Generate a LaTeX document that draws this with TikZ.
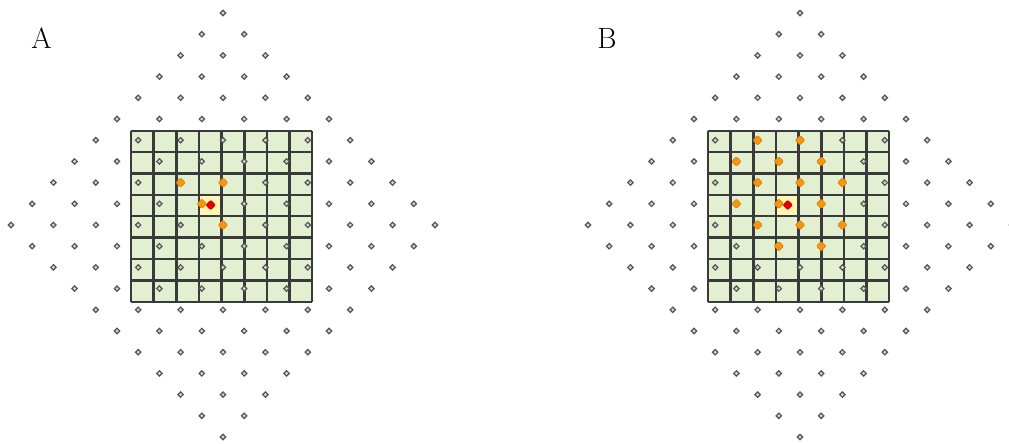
\documentclass[tikz,border=0pt]{standalone}
\usepackage{xcolor}
\usepackage{tikz}
\usetikzlibrary{shapes.geometric}
\tikzset{>=stealth}

\definecolor{cellgreen}{HTML}{E3EFD1}
\definecolor{gridline}{HTML}{3A3A3A}
\definecolor{hilite}{HTML}{FFF6B4}
\definecolor{dotgray}{HTML}{D6D6D6}
\definecolor{dotedge}{HTML}{555555}
\definecolor{nborange}{HTML}{F7950F}
\definecolor{querred}{HTML}{E80000}

\tikzset{
  latpt/.style={diamond,draw=dotedge,fill=dotgray,line width=0.9pt,inner sep=0pt,minimum size=4.4pt},
  nbpt/.style={diamond,draw=nborange!85!black,fill=nborange,line width=0.4pt,inner sep=0pt,minimum size=7.4pt,rounded corners=0.8pt},
  qpt/.style={diamond,draw=querred!85!black,fill=querred,line width=0.4pt,inner sep=0pt,minimum size=7.4pt,rounded corners=0.8pt},
  panellabel/.style={font=\fontsize{22}{26}\selectfont}
}

\begin{document}
\begin{tikzpicture}[x=0.75pt,y=-0.75pt]
  \useasboundingbox (0,0) rectangle (1009,443);

  % two panels, B shifted by 577px
  \foreach \pnl/\dx in {A/0,B/577}{
    \begin{scope}[xshift=\dx*0.75pt]
      % grid of cells
      \fill[cellgreen] (131,130.7) rectangle (312.3,301.7);
      \fill[hilite] (199,194.8) rectangle (221.6,216.2);
      \foreach \c in {0,...,8}
        \draw[gridline,line width=1.8pt] (131+\c*22.66,130.7) -- (131+\c*22.66,301.7);
      \foreach \r in {0,...,8}
        \draw[gridline,line width=1.8pt] (131,130.7+\r*21.375) -- (312.3,130.7+\r*21.375);
      % lattice points, diamond |i|+|j|<=10
      \foreach \a in {-5,...,5}
        \foreach \b in {-5,...,5}
          \node[latpt] (p\pnl-\a-\b) at ({223+(\a+\b)*21.2},{225-(\a-\b)*21.2}) {};
    \end{scope}
  }

  % panel A neighbours
  \foreach \i/\j [count=\k] in {-2/2,0/2,-1/1,0/0}
    \node[nbpt] (nA\k) at ({223+\i*21.2},{225-\j*21.2}) {};
  \node[qpt] (qA) at (210.7,205) {};

  % panel B neighbours
  \foreach \i/\j [count=\k] in {-2/4,0/4,-3/3,-1/3,1/3,-2/2,0/2,2/2,-3/1,-1/1,1/1,-2/0,0/0,2/0,-1/-1,1/-1}
    \node[nbpt] (nB\k) at ({800+\i*21.2},{225-\j*21.2}) {};
  \node[qpt] (qB) at (787.7,205) {};

  % labels
  \node[panellabel] (labA) at (41.5,38) {A};
  \node[panellabel] (labB) at (607,38) {B};
\end{tikzpicture}
\end{document}
